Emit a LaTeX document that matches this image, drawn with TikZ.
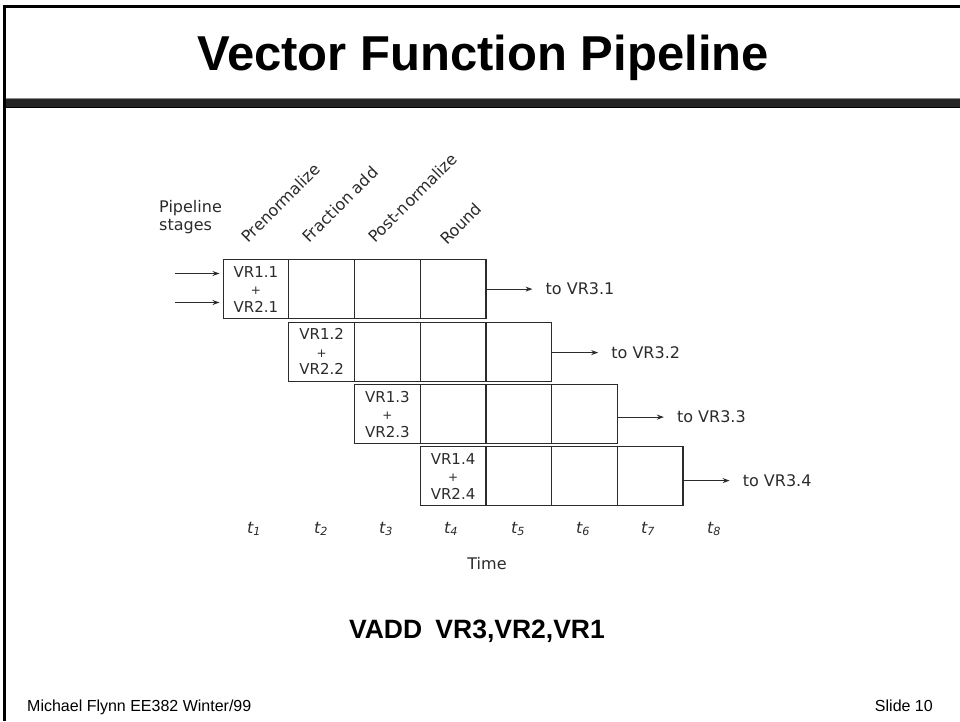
\documentclass[tikz,border=0pt]{standalone}
\usepackage{fontspec}
\setmainfont{Liberation Sans}
\newfontfamily\scanfont{DejaVu Sans}
\usetikzlibrary{arrows.meta}
\definecolor{ink}{HTML}{2B2B2B}
\definecolor{band}{HTML}{252525}
\tikzset{
  scan/.style={font=\scanfont\fontsize{16}{18}\selectfont, text=ink, inner sep=0pt},
  cellbox/.style={draw=ink, line width=1.2pt, minimum width=65.7pt, minimum height=59pt,
    inner sep=0pt, anchor=north west},
  celltext/.style={cellbox, align=center, font=\scanfont\fontsize{15}{17.5}\selectfont, text=ink},
  stagelabel/.style={scan, rotate=45, anchor=base west},
  flow/.style={draw=ink, line width=1.1pt, -{Stealth[length=7pt,width=5pt]}},
  outlabel/.style={scan, anchor=west},
  foottext/.style={font=\fontsize{16}{18}\selectfont, inner sep=0pt},
}
\begin{document}
\begin{tikzpicture}[x=1pt, y=-1pt]
\path[use as bounding box] (0,0) rectangle (960,721);
% slide frame and header band
\fill[black] (2.5,4.5) rectangle (960,7.5);
\fill[black] (2.5,4.5) rectangle (5.5,721);
\fill[black!45] (5.5,97.6) rectangle (960,99);
\fill[band] (5.5,99) rectangle (960,106.5);
\fill[black] (5.5,106.5) rectangle (960,108);
% title
\node[anchor=base, font=\bfseries\fontsize{49}{50}\selectfont] (title) at (483,70) {Vector Function Pipeline};
% pipeline grid: one row of four stage cells per vector element
\foreach \r/\top in {1/259,2/321.5,3/384,4/446}{
  \pgfmathsetmacro\xx{222.5+65.7*(\r-1)}
  \node[celltext] (c\r1) at (\xx,\top) {VR1.\r\\{\fontsize{12}{12}\selectfont+}\\VR2.\r};
  \foreach \k in {2,3,4}{
    \pgfmathsetmacro\xk{222.5+65.7*(\r+\k-2)}
    \node[cellbox] (c\r\k) at (\xk,\top) {};
  }
}
% results leaving the last stage
\foreach \r/\dy in {1/0,2/-1,3/-3,4/-4.5}{
  \coordinate (e\r) at ([yshift=\dy pt]c\r4.east);
  \node[outlabel] (o\r) at ([xshift=59pt]e\r) {to VR3.\r};
  \draw[flow, shorten >=13pt] (e\r) -- (o\r.west);
}
% operands entering the first stage
\coordinate (in1) at (175,273.5);
\coordinate (in2) at (175,302.5);
\draw[flow, line width=0.9pt, shorten >=3pt] (in1) -- (in1 -| c11.west);
\draw[flow, line width=1.8pt, shorten >=3pt] (in2) -- (in2 -| c11.west);
% stage names
\node[scan, align=left, anchor=north west] (ps) at (159,200) {Pipeline\\stages};
\node[stagelabel] (s1) at (248,244) {Prenormalize};
\node[stagelabel] (s2) at (309,244) {Fraction add};
\node[stagelabel] (s3) at (375,244) {Post-normalize};
\node[stagelabel] (s4) at (447,246) {Round};
% time axis
\foreach \k/\xt in {1/254,2/321,3/386,4/451,5/518,6/583,7/648,8/714}{
  \node[scan] (t\k) at (\xt,529) {\itshape t\textsubscript{\k}};
}
\node[scan] (time) at (487,564) {Time};
% instruction
\node[anchor=base, font=\bfseries\fontsize{26.5}{28}\selectfont] (cmd) at (477,638) {VADD\hspace{0.5em}VR3,VR2,VR1};
% footer
\node[foottext, anchor=base west] (foot) at (27,711) {Michael Flynn EE382 Winter/99};
\node[foottext, anchor=base east] (slide) at (933,711) {Slide 10};
\end{tikzpicture}
\end{document}
